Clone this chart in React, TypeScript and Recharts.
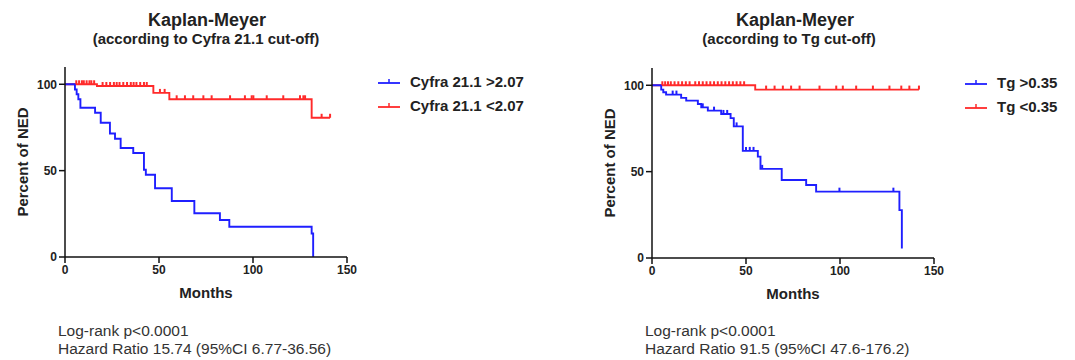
import React from "react"
import { LineChart, Line, XAxis, YAxis, Legend } from "recharts"

// event times (months) and survival level after each event (%)
const cyfraHighMonths = [0, 5.3, 6.2, 7.1, 8.2, 16, 19, 23.9, 26.6, 29.6, 36.3, 42, 43, 47.9, 56.8, 68.8, 82.4, 87.4, 131.2, 132.0]
const cyfraHighPct = [100, 97, 94.2, 91.3, 86.4, 83.5, 77.7, 71.5, 68.5, 63.1, 60.2, 50.5, 47.6, 39.8, 32.4, 25.3, 21.4, 17.5, 13.6, 0]
const cyfraHighCensored: number[] = []

const cyfraLowMonths = [0, 17, 47, 55.5, 131.2]
const cyfraLowPct = [100, 99, 95, 91.3, 80.6]
const cyfraLowCensored = [6, 7.5, 9, 10, 11.5, 13, 14, 15.5, 20, 22, 24, 26, 27.5, 29, 31, 33, 35, 36.5, 38, 40, 42, 43.5, 50.5, 53, 59.4, 63.8, 68.2, 73.6, 78, 87.8, 95.7, 99.3, 100.2, 107.3, 116.1, 125, 126.8, 127.7, 136.5, 141]

const tgHighMonths = [0, 4.9, 6, 7.5, 15.5, 18.2, 24.4, 26.2, 29.7, 36.8, 41.8, 43.5, 48.3, 56.3, 57.7, 69, 82, 87.3, 131.6, 132.9]
const tgHighPct = [100, 97.5, 96, 94.6, 92.7, 91.1, 89.2, 87.2, 85.3, 83.4, 81, 76.2, 62, 58.7, 51.6, 45.2, 42.3, 38.4, 27.7, 5.5]
const tgHighCensored = [11, 13, 27, 33, 38, 40, 45, 50, 52, 54, 58.6, 99.7, 128.4]

const tgLowMonths = [0, 54.9]
const tgLowPct = [100, 97.5]
const tgLowCensored = [5.5, 7, 8.5, 10, 12, 14, 16, 18, 20, 23, 25, 27, 29, 31, 33, 35, 37, 39, 41, 43, 45, 47, 49, 60.7, 65.2, 69.6, 74, 78.5, 89.1, 98, 101.5, 108.6, 117.5, 126.3, 132.6, 136.9, 142]

const xTicks = [0, 50, 100, 150]
const yTicks = [0, 50, 100]

const BLUE = "#1f1fff"
const RED = "#ff2a2a"
const FONT = "'Liberation Sans', Arial, sans-serif"

interface Pt { x: number; y: number; c: boolean }

// merge events and censor marks; a censor mark sits on the current step level
function buildCurve(months: number[], pct: number[], censored: number[]): Pt[] {
  const pts: Pt[] = months.map((m, i) => ({ x: m, y: pct[i], c: false }))
  censored.forEach((t) => {
    let lvl = pct[0]
    months.forEach((m, i) => {
      if (m <= t) lvl = pct[i]
    })
    pts.push({ x: t, y: lvl, c: true })
  })
  return pts.sort((a, b) => a.x - b.x || (a.c ? 1 : -1))
}

interface Series { name: string; color: string; data: Pt[] }

const censorDot = (color: string) => (p: any) => {
  if (!p.payload || !p.payload.c) return <g key={`n-${p.index}`} />
  return (
    <line key={`c-${p.index}`} x1={p.cx} x2={p.cx} y1={p.cy} y2={p.cy - 4} stroke={color} strokeWidth={2} />
  )
}

function LegendBox({ series }: { series: Series[] }) {
  return (
    <div style={{ fontFamily: FONT }}>
      {series.map((s) => (
        <div key={s.name} style={{ display: "flex", alignItems: "center", height: 24 }}>
          <svg width={22} height={10} style={{ marginRight: 10 }}>
            <line x1={0} x2={22} y1={7} y2={7} stroke={s.color} strokeWidth={1.8} />
            <line x1={11} x2={11} y1={7} y2={3} stroke={s.color} strokeWidth={1.5} />
          </svg>
          <span style={{ fontSize: 15, fontWeight: "bold", color: "#222" }}>{s.name}</span>
        </div>
      ))}
    </div>
  )
}

interface PanelProps {
  left: number
  top: number
  width: number
  title: string
  subtitle: string
  titleX: number
  subtitleX: number
  series: Series[]
  footer: string[]
}

function Panel({ left, top, width, title, subtitle, titleX, subtitleX, series, footer }: PanelProps) {
  const tickStyle = { fontSize: 12, fontWeight: "bold", fill: "#222", fontFamily: FONT }
  return (
    <>
      <div style={{ position: "absolute", left: titleX - 150, top: 9, width: 300, textAlign: "center", fontFamily: FONT, fontWeight: "bold", fontSize: 18, lineHeight: "22px", color: "#222" }}>
        {title}
      </div>
      <div style={{ position: "absolute", left: subtitleX - 170, top: 30, width: 340, textAlign: "center", fontFamily: FONT, fontWeight: "bold", fontSize: 15, lineHeight: "18px", color: "#222" }}>
        {subtitle}
      </div>
      <div style={{ position: "absolute", left, top }}>
        <LineChart width={width} height={242} margin={{ top: 7, right: width - 347, bottom: 0, left: 0 }}>
          <XAxis
            type="number"
            dataKey="x"
            domain={[0, 150]}
            ticks={xTicks}
            allowDataOverflow
            height={45}
            tickSize={6}
            tick={tickStyle}
            axisLine={{ stroke: "#111", strokeWidth: 1.5 }}
            tickLine={{ stroke: "#111", strokeWidth: 1.5 }}
            label={{
              content: (p: any) => (
                <text x={p.viewBox.x + p.viewBox.width / 2} y={p.viewBox.y + 41} textAnchor="middle" fontFamily={FONT} fontWeight="bold" fontSize={15} fill="#222">
                  Months
                </text>
              ),
            }}
          />
          <YAxis
            type="number"
            dataKey="y"
            domain={[0, 110]}
            ticks={yTicks}
            allowDataOverflow
            width={65}
            tickSize={6}
            tick={tickStyle}
            axisLine={{ stroke: "#111", strokeWidth: 1.5 }}
            tickLine={{ stroke: "#111", strokeWidth: 1.5 }}
            label={{
              content: (p: any) => {
                const cx = p.viewBox.x + 22
                const cy = p.viewBox.y + p.viewBox.height / 2
                return (
                  <text x={cx} y={cy} transform={`rotate(-90 ${cx} ${cy})`} textAnchor="middle" dominantBaseline="central" fontFamily={FONT} fontWeight="bold" fontSize={15} fill="#222">
                    Percent of NED
                  </text>
                )
              },
            }}
          />
          <Legend
            layout="vertical"
            align="center"
            verticalAlign="middle"
            wrapperStyle={{ left: 378, top: 9, width: "auto" }}
            content={() => <LegendBox series={series} />}
          />
          {series
            .slice()
            .reverse()
            .map((s) => (
              <Line
                key={s.name}
                name={s.name}
                data={s.data}
                dataKey="y"
                type="stepAfter"
                stroke={s.color}
                strokeWidth={1.9}
                dot={censorDot(s.color)}
                activeDot={false}
                isAnimationActive={false}
              />
            ))}
        </LineChart>
      </div>
      <div style={{ position: "absolute", left: left + 58, top: 322, fontFamily: FONT, fontSize: 15.5, lineHeight: "17.5px", color: "#333" }}>
        {footer.map((f) => (
          <div key={f}>{f}</div>
        ))}
      </div>
    </>
  )
}

export default function App() {
  const cyfraSeries: Series[] = [
    { name: "Cyfra 21.1 >2.07", color: BLUE, data: buildCurve(cyfraHighMonths, cyfraHighPct, cyfraHighCensored) },
    { name: "Cyfra 21.1 <2.07", color: RED, data: buildCurve(cyfraLowMonths, cyfraLowPct, cyfraLowCensored) },
  ]
  const tgSeries: Series[] = [
    { name: "Tg >0.35", color: BLUE, data: buildCurve(tgHighMonths, tgHighPct, tgHighCensored) },
    { name: "Tg <0.35", color: RED, data: buildCurve(tgLowMonths, tgLowPct, tgLowCensored) },
  ]
  return (
    <div style={{ position: "absolute", left: 0, top: 0, width: 1075, height: 360, background: "#fff", overflow: "hidden" }}>
      <Panel
        left={0}
        top={60}
        width={560}
        title="Kaplan-Meyer"
        subtitle="(according to Cyfra 21.1 cut-off)"
        titleX={207}
        subtitleX={206}
        series={cyfraSeries}
        footer={["Log-rank p<0.0001", "Hazard Ratio 15.74 (95%CI 6.77-36.56)"]}
      />
      <Panel
        left={587}
        top={61}
        width={488}
        title="Kaplan-Meyer"
        subtitle="(according to Tg cut-off)"
        titleX={795}
        subtitleX={789}
        series={tgSeries}
        footer={["Log-rank p<0.0001", "Hazard Ratio 91.5 (95%CI 47.6-176.2)"]}
      />
    </div>
  )
}
